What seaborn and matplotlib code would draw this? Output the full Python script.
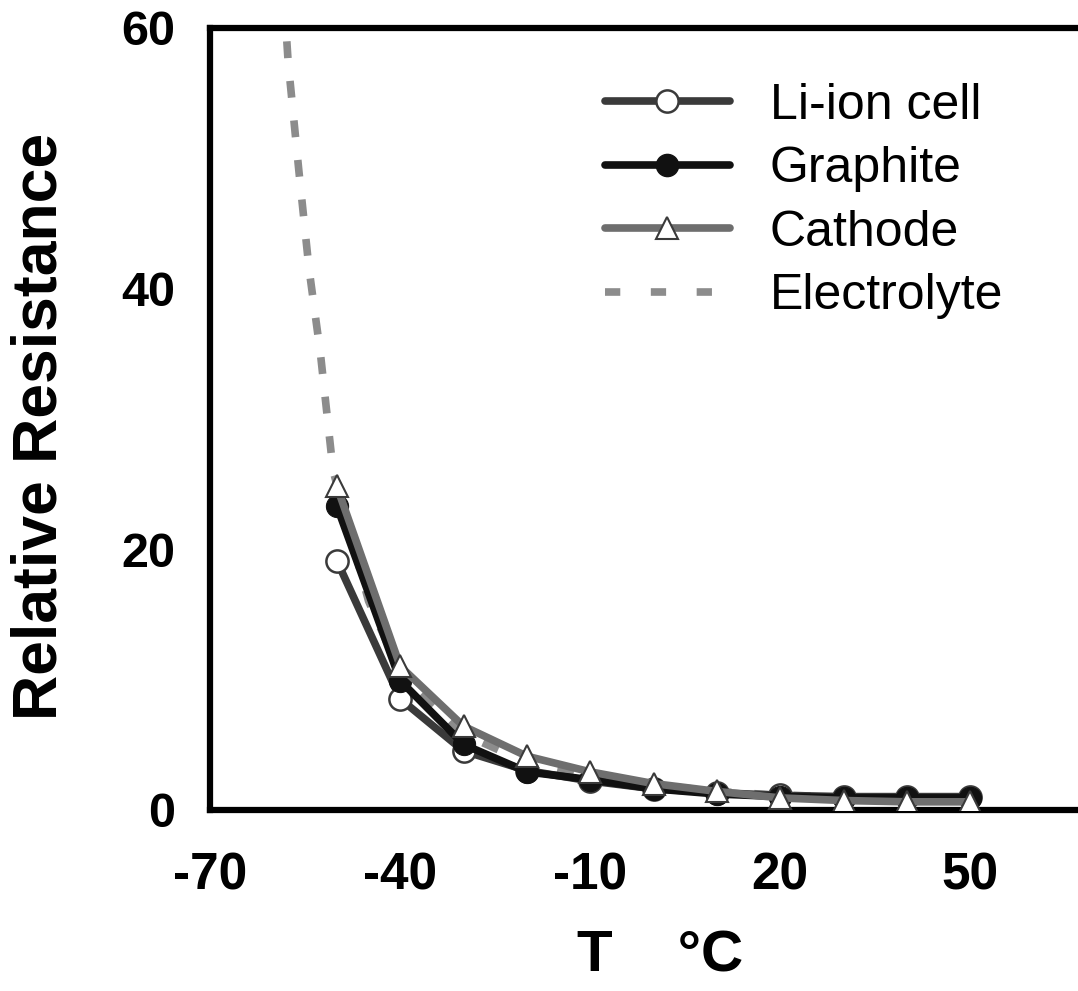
import numpy as np
import pandas as pd
import seaborn as sns
import matplotlib.pyplot as plt
from matplotlib.lines import Line2D

# Temperatures (deg C) at which the cell / electrodes were measured
temps = [-50, -40, -30, -20, -10, 0, 10, 20, 30, 40, 50]
li_ion = [19.1, 8.5, 4.5, 3.0, 2.2, 1.6, 1.3, 1.1, 1.0, 1.0, 1.0]
graphite = [23.3, 9.9, 5.0, 2.9, 2.3, 1.6, 1.2, 1.0, 0.9, 0.9, 0.9]
cathode = [24.8, 11.0, 6.4, 4.1, 2.9, 2.0, 1.4, 0.9, 0.7, 0.6, 0.6]

# Electrolyte curve (dashed)
elec_temps = [-58.3, -57.7, -56.0, -54.4, -52.6, -50.6, -45, -40, -30, -20, -10, 0, 10, 20, 30, 40, 50]
electrolyte = [62, 57.4, 49, 41.5, 35, 26, 16, 10.5, 5.8, 3.6, 2.6, 1.9, 1.4, 1.1, 1.0, 0.9, 0.8]

x_ticks = [-70, -40, -10, 20, 50]
y_ticks = [0, 20, 40, 60]

sns.set_style('white')
plt.rcParams['font.family'] = ['Liberation Sans', 'DejaVu Sans']
plt.rcParams['text.color'] = 'black'
plt.rcParams['axes.labelcolor'] = 'black'
plt.rcParams['xtick.color'] = 'black'
plt.rcParams['ytick.color'] = 'black'

fig = plt.figure(figsize=(10.78, 9.91), dpi=100)
ax = fig.add_axes([0.195, 0.183, 0.805, 0.789])

cell_df = pd.DataFrame({'T': temps, 'Li-ion cell': li_ion, 'Graphite': graphite, 'Cathode': cathode})
elec_df = pd.DataFrame({'T': elec_temps, 'Electrolyte': electrolyte})

# styles for each series (also used for the legend)
styles = {
    'Li-ion cell': dict(color='#3a3a3a', lw=5.5, marker='o', markersize=16, markerfacecolor='white',
                        markeredgecolor='#3a3a3a', markeredgewidth=1.8),
    'Graphite': dict(color='#111111', lw=5.5, marker='o', markersize=16, markerfacecolor='#111111',
                     markeredgecolor='#111111'),
    'Cathode': dict(color='#6e6e6e', lw=5.5, marker='^', markersize=16, markerfacecolor='white',
                    markeredgecolor='#3a3a3a', markeredgewidth=1.5),
}

# electrolyte at the bottom, then the three measured series
sns.lineplot(data=elec_df, x='T', y='Electrolyte', ax=ax, color='#8c8c8c', lw=5.5, zorder=1)
ax.lines[-1].set_dashes((2.2, 3.0))
for z, name in enumerate(['Li-ion cell', 'Graphite', 'Cathode']):
    sns.lineplot(data=cell_df, x='T', y=name, ax=ax, zorder=2 + z, **styles[name])

ax.set_xlim(-70, 67)
ax.set_ylim(0, 60)
ax.set_xticks(x_ticks)
ax.set_yticks(y_ticks)
ax.set_xticklabels([str(t) for t in x_ticks], fontsize=37, fontweight='bold')
ax.set_yticklabels([str(t) for t in y_ticks], fontsize=35, fontweight='bold')
ax.tick_params(direction='in', length=14, width=3)
ax.tick_params(axis='x', pad=30)
ax.tick_params(axis='y', pad=25)

for side in ['left', 'bottom', 'top']:
    ax.spines[side].set_linewidth(4.5)
    ax.spines[side].set_color('black')
ax.spines['right'].set_visible(False)

ax.set_xlabel('T    °C', fontsize=42, fontweight='bold')
ax.set_ylabel('Relative Resistance', fontsize=45, fontweight='bold')
ax.xaxis.set_label_coords(0.518, -0.153)
ax.yaxis.set_label_coords(-0.162, 0.49)

handles = [Line2D([], [], **styles[n]) for n in ['Li-ion cell', 'Graphite', 'Cathode']]
handles.append(Line2D([], [], color='#8c8c8c', lw=5.5, dashes=(2.0, 4.0)))
ax.legend(handles, ['Li-ion cell', 'Graphite', 'Cathode', 'Electrolyte'],
          loc='upper left', bbox_to_anchor=(0.403, 0.987), frameon=False,
          fontsize=36, handlelength=2.5, handletextpad=0.8, labelspacing=0.35)

plt.savefig('out.png', dpi=100)
